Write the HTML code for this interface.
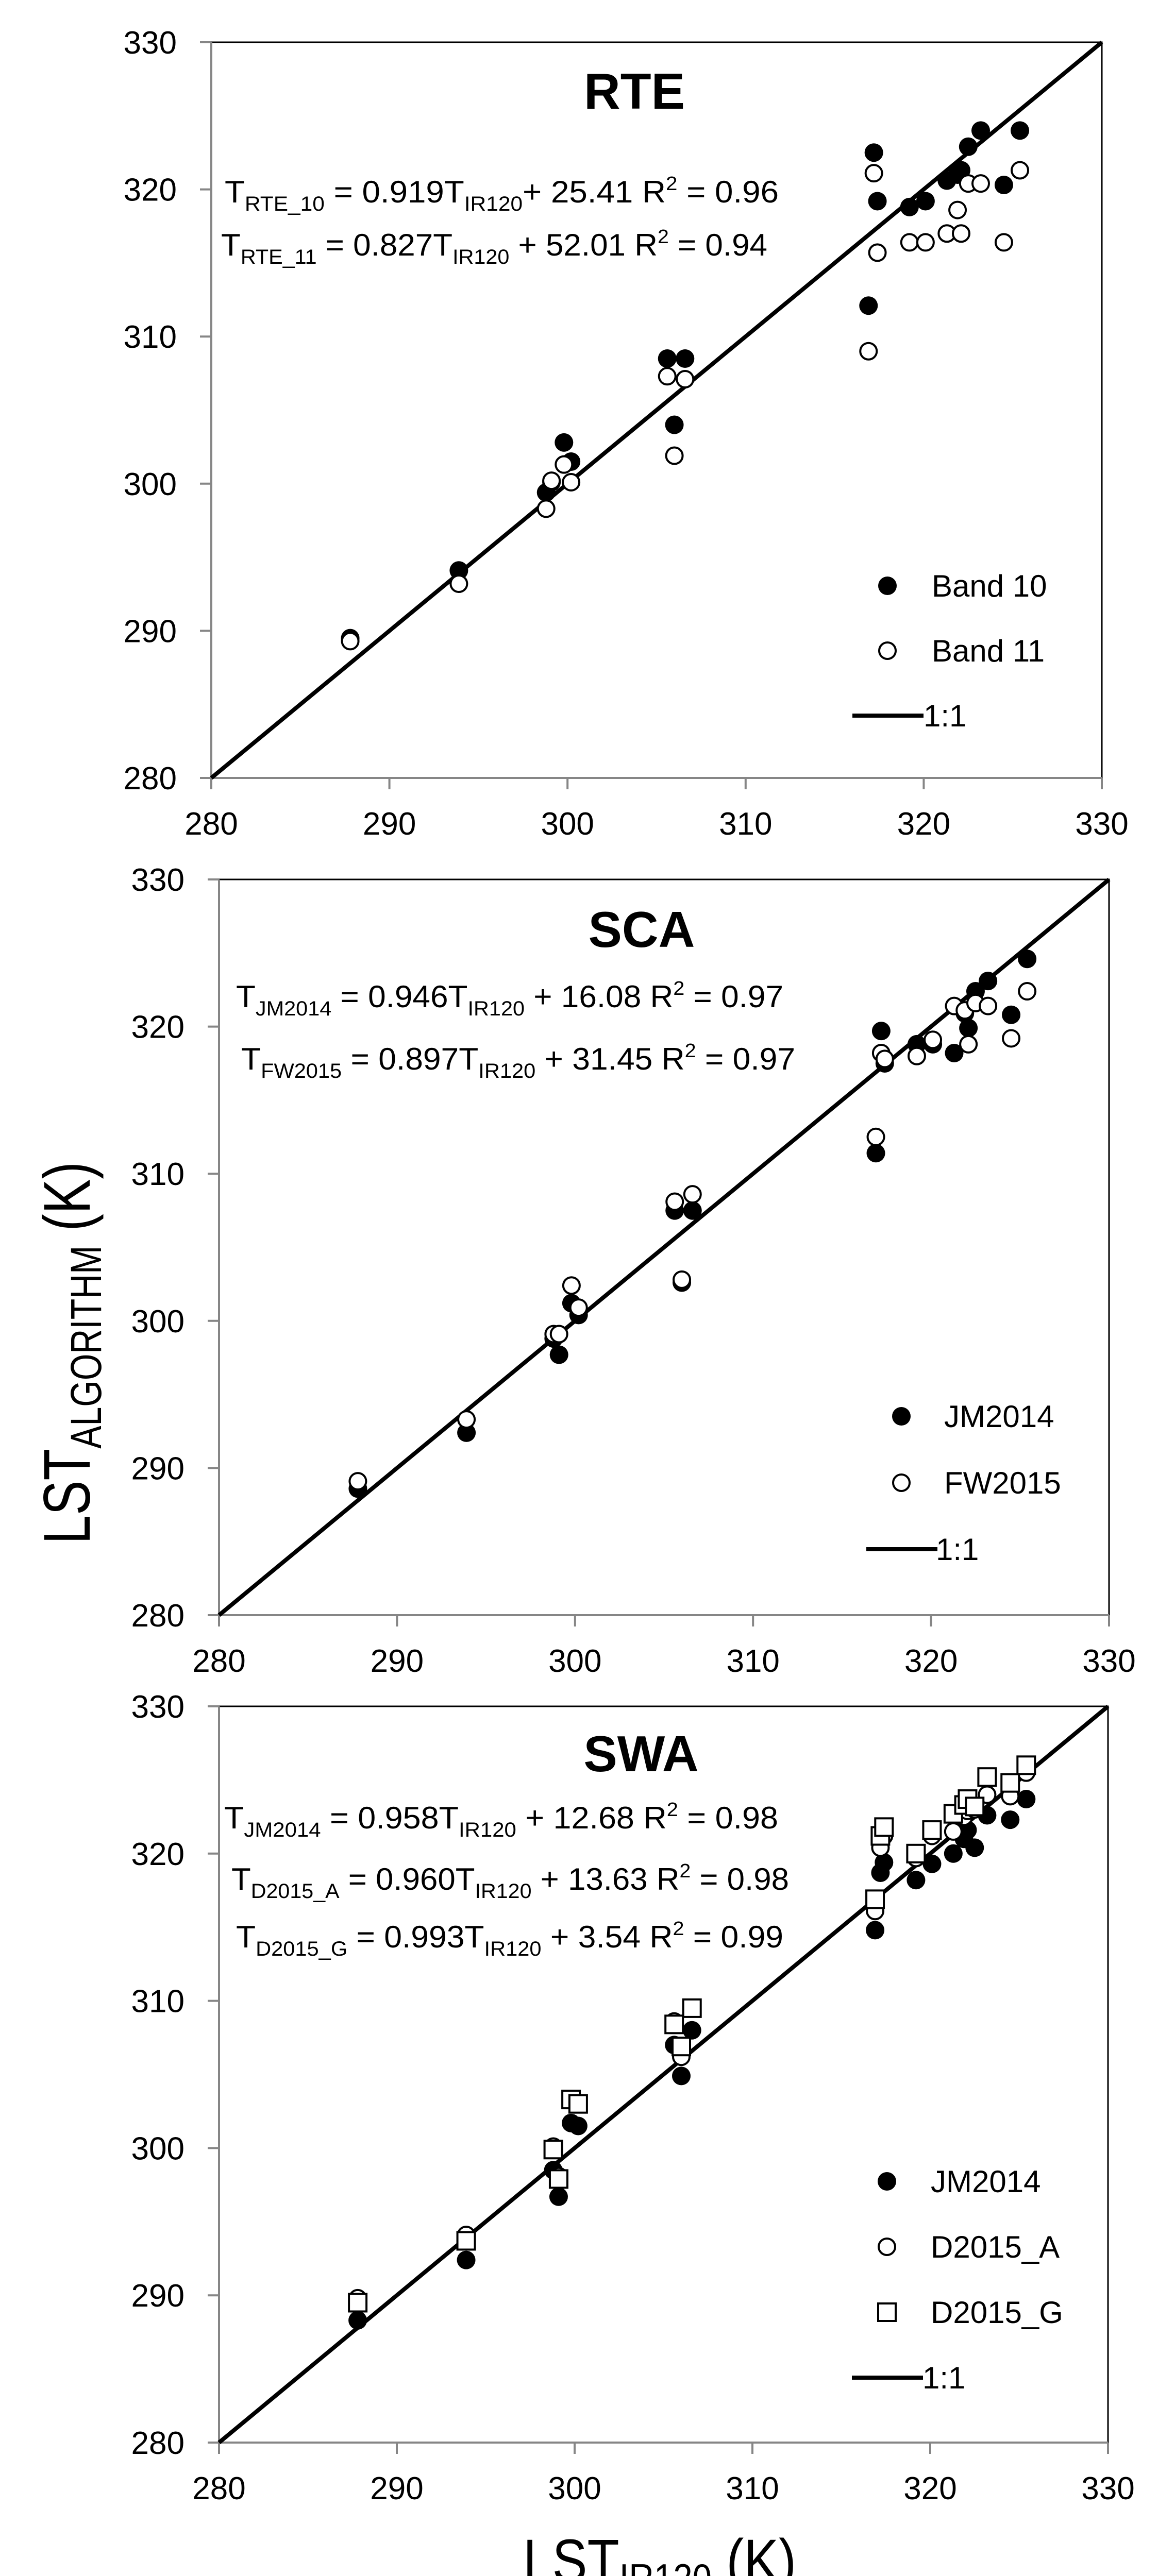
<!DOCTYPE html>
<html><head><meta charset="utf-8"><style>
html,body{margin:0;padding:0;background:#fff;width:2247px;height:5112px;overflow:hidden}
svg{display:block;font-family:"Liberation Sans",sans-serif}
</style></head><body>
<svg id="chart" width="2247" height="5112" viewBox="0 0 2247 5112" xmlns="http://www.w3.org/2000/svg">
<rect width="2247" height="5112" fill="#fff"/>
<g id="layer"></g>
<text x="1231" y="211" font-size="98" font-weight="bold" text-anchor="middle">RTE</text>
<text x="436" y="393" font-size="60" textLength="1075" lengthAdjust="spacingAndGlyphs">T<tspan font-size="40" dy="16">RTE_10</tspan><tspan dy="-16"> = 0.919T</tspan><tspan font-size="40" dy="16">IR120</tspan><tspan dy="-16">+ 25.41    R</tspan><tspan font-size="38" dy="-24">2</tspan><tspan dy="24"> = 0.96</tspan></text>
<text x="429" y="496" font-size="60" textLength="1060" lengthAdjust="spacingAndGlyphs">T<tspan font-size="40" dy="16">RTE_11</tspan><tspan dy="-16"> = 0.827T</tspan><tspan font-size="40" dy="16">IR120</tspan><tspan dy="-16"> + 52.01  R</tspan><tspan font-size="38" dy="-24">2</tspan><tspan dy="24"> = 0.94</tspan></text>

<text x="1245" y="1838" font-size="98" font-weight="bold" text-anchor="middle">SCA</text>
<text x="458" y="1955" font-size="60" textLength="1062" lengthAdjust="spacingAndGlyphs">T<tspan font-size="40" dy="16">JM2014</tspan><tspan dy="-16"> = 0.946T</tspan><tspan font-size="40" dy="16">IR120</tspan><tspan dy="-16"> + 16.08  R</tspan><tspan font-size="38" dy="-24">2</tspan><tspan dy="24"> = 0.97</tspan></text>
<text x="468" y="2076" font-size="60" textLength="1075" lengthAdjust="spacingAndGlyphs">T<tspan font-size="40" dy="16">FW2015</tspan><tspan dy="-16"> = 0.897T</tspan><tspan font-size="40" dy="16">IR120</tspan><tspan dy="-16"> + 31.45   R</tspan><tspan font-size="38" dy="-24">2</tspan><tspan dy="24"> = 0.97</tspan></text>

<text x="1244" y="3438" font-size="98" font-weight="bold" text-anchor="middle">SWA</text>
<text x="435" y="3549" font-size="60" textLength="1075" lengthAdjust="spacingAndGlyphs">T<tspan font-size="40" dy="16">JM2014</tspan><tspan dy="-16"> = 0.958T</tspan><tspan font-size="40" dy="16">IR120</tspan><tspan dy="-16"> + 12.68   R</tspan><tspan font-size="38" dy="-24">2</tspan><tspan dy="24"> = 0.98</tspan></text>
<text x="449" y="3668" font-size="60" textLength="1082" lengthAdjust="spacingAndGlyphs">T<tspan font-size="40" dy="16">D2015_A</tspan><tspan dy="-16"> = 0.960T</tspan><tspan font-size="40" dy="16">IR120</tspan><tspan dy="-16"> + 13.63 R</tspan><tspan font-size="38" dy="-24">2</tspan><tspan dy="24"> = 0.98</tspan></text>
<text x="458" y="3780" font-size="60" textLength="1062" lengthAdjust="spacingAndGlyphs">T<tspan font-size="40" dy="16">D2015_G</tspan><tspan dy="-16"> = 0.993T</tspan><tspan font-size="40" dy="16">IR120</tspan><tspan dy="-16"> + 3.54  R</tspan><tspan font-size="38" dy="-24">2</tspan><tspan dy="24"> = 0.99</tspan></text>

<text transform="translate(174,2997) rotate(-90)" font-size="128" textLength="742" lengthAdjust="spacingAndGlyphs">LST<tspan font-size="84" dy="22">ALGORITHM</tspan><tspan dy="-22"> (K)</tspan></text>
<text x="1015" y="5011" font-size="118" textLength="530" lengthAdjust="spacingAndGlyphs">LST<tspan font-size="78" dy="20">IR120</tspan><tspan dy="-20"> (K)</tspan></text>
</svg>
<script>
const lstIR120 = [287.8,293.9,298.8,299.1,299.8,300.2,305.6,306.6,306.0,316.9,317.2,317.4,319.2,320.1,321.3,321.9,322.1,322.5,323.2,324.5,325.4];
const rteBand10 = [289.5,294.1,299.4,300.1,302.8,301.5,308.5,308.5,304.0,312.1,322.5,319.2,318.8,319.2,320.6,321.0,321.3,322.9,324.0,320.3,324.0];
const rteBand11 = [289.3,293.2,298.3,300.2,301.3,300.1,307.3,307.1,301.9,309.0,321.1,315.7,316.4,316.4,317.0,318.6,317.0,320.4,320.4,316.4,321.3];
const scaJM2014 = [288.6,292.4,298.8,297.7,301.2,300.4,307.5,307.5,302.6,311.4,319.7,317.5,318.8,318.8,318.2,320.9,319.9,322.4,323.1,320.8,324.6];
const scaFW2015 = [289.1,293.3,299.1,299.1,302.4,300.9,308.1,308.6,302.8,312.5,318.2,317.8,318.0,319.1,321.4,321.1,318.8,321.6,321.4,319.2,322.4];
const swaJM2014 = [288.3,292.4,298.5,296.7,301.7,301.5,307.0,308.0,304.9,314.8,318.7,319.4,318.2,319.3,320.0,321.0,321.6,320.4,322.6,322.3,323.7];
const swaD2015A = [289.8,294.1,300.1,298.1,303.3,303.0,308.6,309.5,306.2,316.1,320.4,321.2,319.7,321.2,321.5,322.5,322.9,323.0,324.0,323.9,325.5];
const swaD2015G = [289.5,293.7,299.9,297.9,303.3,303.0,308.4,309.5,306.9,316.9,321.2,321.8,320.0,321.6,322.7,323.3,323.7,323.2,325.2,324.8,326.0];
const tickValues = [280,290,300,310,320,330];
const axisMin = 280, axisMax = 330;

const NS = "http://www.w3.org/2000/svg";
const layer = document.getElementById('layer');
function mk(tag, attrs, parent){
  const e = document.createElementNS(NS, tag);
  for (const k in attrs) e.setAttribute(k, attrs[k]);
  (parent||layer).appendChild(e);
  return e;
}
function drawPanel(name, box, series, legendPos){
  const g = mk('g', {});
  
  
  const sx = v => box.l + (v - axisMin) / (axisMax - axisMin) * (box.r - box.l);
  const sy = v => box.b - (v - axisMin) / (axisMax - axisMin) * (box.b - box.t);
  const fr = mk('path', {d:`M${box.l},${box.t} L${box.r},${box.t} L${box.r},${box.b}`, fill:'none', stroke:'#000', 'stroke-width':3}, g);
  
  
  const ax = mk('path', {d:`M${box.l},${box.t} L${box.l},${box.b} L${box.r},${box.b}`, fill:'none', stroke:'#868686', 'stroke-width':4}, g);
  
  
  tickValues.forEach(v => {
    const xt = mk('line', {x1:sx(v), x2:sx(v), y1:box.b, y2:box.b+22, stroke:'#868686', 'stroke-width':4}, g);
    
    
    const yt = mk('line', {x1:box.l-22, x2:box.l, y1:sy(v), y2:sy(v), stroke:'#868686', 'stroke-width':4}, g);
    
    
    const xl = mk('text', {x:sx(v), y:box.b+110, 'font-size':62, 'text-anchor':'middle'}, g);
    xl.textContent = v;
    
    
    const yl = mk('text', {x:box.l-67, y:sy(v)+22, 'font-size':62, 'text-anchor':'end'}, g);
    yl.textContent = v;
    
    
  });
  const one = mk('line', {x1:sx(axisMin), y1:sy(axisMin), x2:sx(axisMax), y2:sy(axisMax), stroke:'#000', 'stroke-width':8}, g);
  
  
  function marker(kind, cx, cy, parent){
    if (kind === 'filled') return mk('circle', {cx, cy, r:18, fill:'#000'}, parent);
    if (kind === 'open') return mk('circle', {cx, cy, r:16, fill:'#fff', stroke:'#000', 'stroke-width':4}, parent);
    return mk('rect', {x:cx-17, y:cy-17, width:34, height:34, fill:'#fff', stroke:'#000', 'stroke-width':4}, parent);
  }
  series.forEach(s => {
    const sg = mk('g', {}, g);
    
    
    s.values.forEach((v, i) => {
      const m = marker(s.kind, sx(lstIR120[i]), sy(v), sg);
      
      
    });
  });
  const lg = mk('g', {}, g);
  
  
  series.forEach((s, i) => {
    const y = legendPos.y + i * legendPos.dy;
    const m = marker(s.kind, legendPos.mx, y, lg);
    
    
    const t = mk('text', {x:legendPos.tx, y:y+21, 'font-size':60}, lg);
    t.textContent = s.label;
    
    
  });
  const ly = legendPos.y + series.length * legendPos.dy;
  const ll = mk('line', {x1:legendPos.mx-68, x2:legendPos.mx+70, y1:ly, y2:ly, stroke:'#000', 'stroke-width':8}, lg);
  
  
  const lt = mk('text', {x:legendPos.tx-16, y:ly+21, 'font-size':60}, lg);
  lt.textContent = '1:1';
  
  
}
drawPanel('rte', {l:410,t:82,r:2138,b:1510},
  [{id:'band10', label:'Band 10', kind:'filled', values:rteBand10},
   {id:'band11', label:'Band 11', kind:'open', values:rteBand11}],
  {mx:1722, tx:1808, y:1137, dy:126});
drawPanel('sca', {l:425,t:1707,r:2152,b:3135},
  [{id:'jm2014', label:'JM2014', kind:'filled', values:scaJM2014},
   {id:'fw2015', label:'FW2015', kind:'open', values:scaFW2015}],
  {mx:1749, tx:1832, y:2749, dy:129});
drawPanel('swa', {l:425,t:3312,r:2150,b:4741},
  [{id:'jm2014', label:'JM2014', kind:'filled', values:swaJM2014},
   {id:'d2015a', label:'D2015_A', kind:'open', values:swaD2015A},
   {id:'d2015g', label:'D2015_G', kind:'square', values:swaD2015G}],
  {mx:1721, tx:1806, y:4234, dy:127});
</script>
</body></html>
